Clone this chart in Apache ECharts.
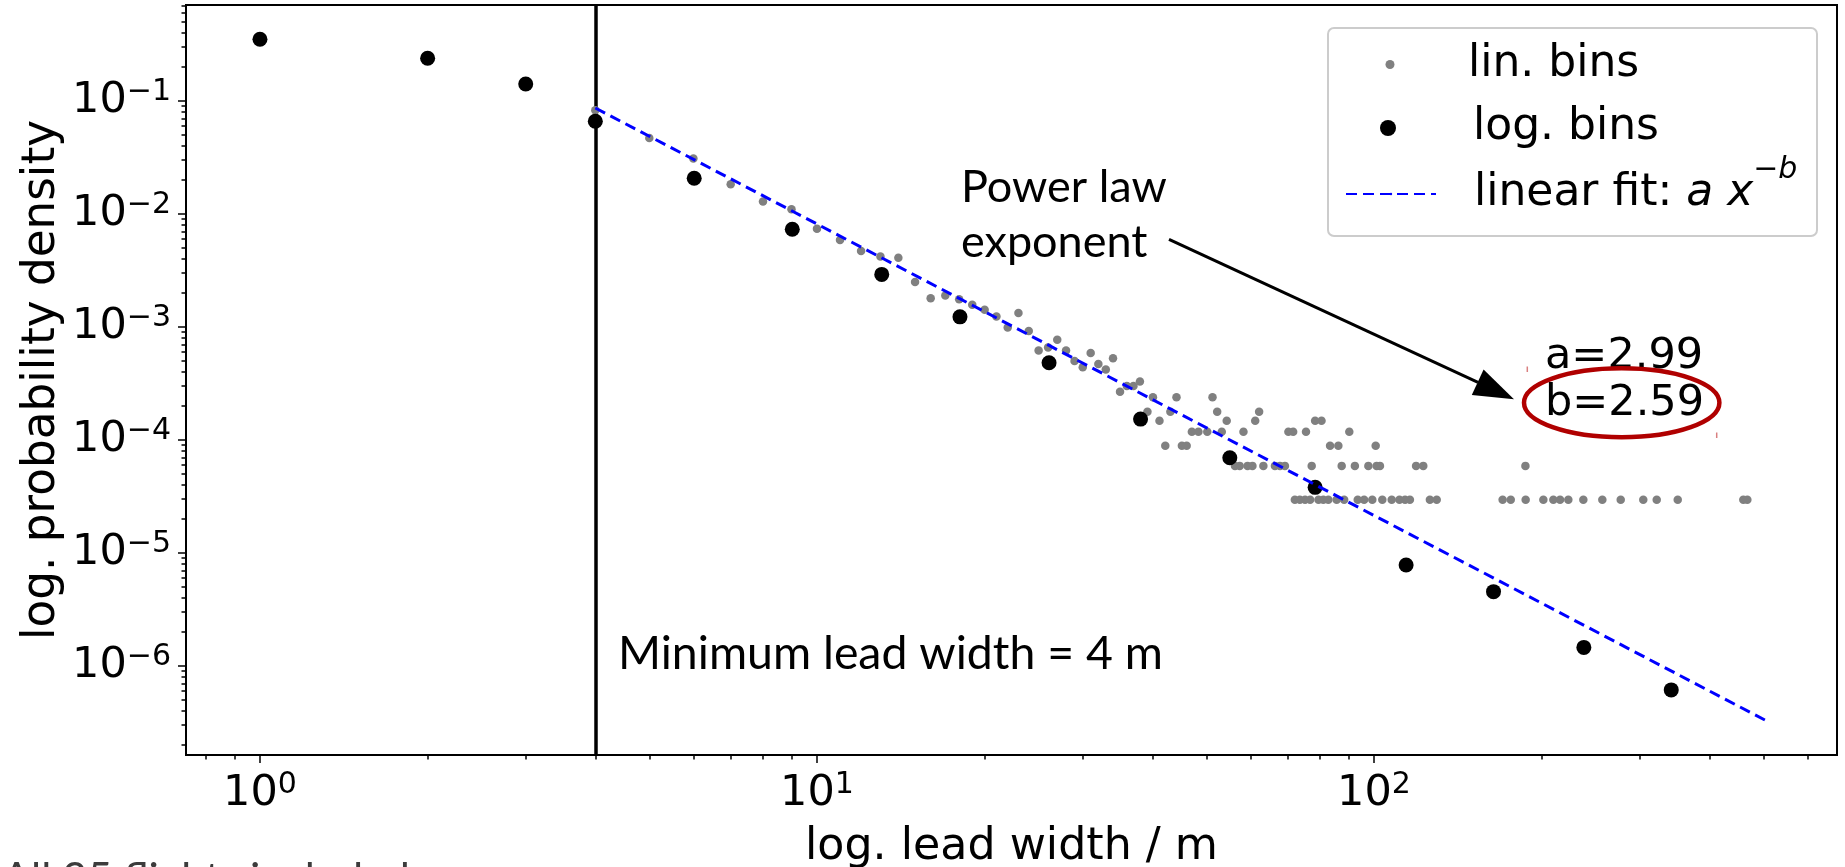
<!DOCTYPE html>
<html><head><meta charset="utf-8">
<script src="https://cdn.jsdelivr.net/npm/echarts@6/dist/echarts.min.js"></script>
<style>html,body{margin:0;padding:0;background:#fff}#c{width:1845px;height:867px}</style>
</head><body><div id="c"></div>
<script>
// ---------------- data ----------------
const linBinsX = [1,2,3,4,5,6,7,8,9,10,11,12,13,14,15,16,17,18,19,20,21,22,23,24,25,26,27,28,29,30,31,32,33,34,35,36,37,38,
  40.1,44.2,51.3,
  39.2,43.1,52.3,62.2,
  41.2,54.4,61.2,78.4,80.5,
  47.1,48.4,50.2,53.3,58.3,70.2,71.6,75.5,90.3,
  42.2,45.2,46.1,83.4,86.3,100.7,
  56.3,57.4,59.3,60.5,63.3,66.4,67.8,69.2,77.3,87.5,92.4,97.7,101.1,102.5,119,122.6,187,
  72.1,73.6,75.2,76.8,79.5,81.1,82.8,85.7,88.4,93.5,96,99.3,103.5,107.6,111.1,113.7,116,126,129.6,170.2,176,187.2,201.4,209.9,215.8,223.3,237.6,257,277.3,304.4,321.8,351,460.3,468];
const linBinsY = [0.3515,0.2387,0.1413,0.083,0.047,0.031,0.0183,0.0129,0.011,0.0074,0.0059,0.0047,0.0042,0.0041,0.0025,0.0018,0.0019,0.00176,0.00157,0.00142,0.00124,0.00099,0.00133,0.00092,0.00062,0.00066,0.00077,0.00062,0.0005,0.00044,0.00059,0.00047,0.00042,0.00053,0.000267,0.0003,0.0003,0.00033,
  2.39e-4,2.39e-4,2.39e-4,
  1.78e-4,1.78e-4,1.78e-4,1.78e-4,
  1.48e-4,1.48e-4,1.48e-4,1.48e-4,1.48e-4,
  1.18e-4,1.18e-4,1.18e-4,1.18e-4,1.18e-4,1.18e-4,1.18e-4,1.18e-4,1.18e-4,
  8.9e-5,8.9e-5,8.9e-5,8.9e-5,8.9e-5,8.9e-5,
  5.9e-5,5.9e-5,5.9e-5,5.9e-5,5.9e-5,5.9e-5,5.9e-5,5.9e-5,5.9e-5,5.9e-5,5.9e-5,5.9e-5,5.9e-5,5.9e-5,5.9e-5,5.9e-5,5.9e-5,
  2.96e-5,2.96e-5,2.96e-5,2.96e-5,2.96e-5,2.96e-5,2.96e-5,2.96e-5,2.96e-5,2.96e-5,2.96e-5,2.96e-5,2.96e-5,2.96e-5,2.96e-5,2.96e-5,2.96e-5,2.96e-5,2.96e-5,2.96e-5,2.96e-5,2.96e-5,2.96e-5,2.96e-5,2.96e-5,2.96e-5,2.96e-5,2.96e-5,2.96e-5,2.96e-5,2.96e-5,2.96e-5,2.96e-5,2.96e-5];
const logBinsX = [1,2,3,4,6.02,9.03,13.07,18.06,26.1,38.1,55.1,78.4,114.2,163.9,238.1,341.7];
const logBinsY = [0.3515,0.2387,0.1413,0.0662,0.0207,0.00733,0.00292,0.00123,0.000483,0.000153,6.97e-5,3.81e-5,7.83e-6,4.55e-6,1.46e-6,6.14e-7];
const fitX = [4, 506];
const fitY = [0.0867, 3.28e-7];
const minLeadWidth = 4;
const xMajorTicks = [1, 10, 100];
const xTickExponents = ['0', '1', '2'];
const yMajorTicks = [1e-6, 1e-5, 1e-4, 1e-3, 1e-2, 1e-1];
const yTickExponents = ['−6', '−5', '−4', '−3', '−2', '−1'];
const seriesNames = ['lin. bins', 'log. bins', 'linear fit: a x^-b'];

// ---------------- helpers ----------------
const FONT = 'DejaVu Sans';
const CAL = 'Lato';
const xRange = [0.7366, 678];
const yRange = [1.63e-7, 0.7072];
function minorTicks(lo, hi, e0, e1) {
  const out = [];
  for (let e = e0; e <= e1; e++) for (let k = 2; k <= 9; k++) {
    const v = k * Math.pow(10, e);
    if (v > lo && v < hi) out.push(+v.toPrecision(6));
  }
  return out;
}
const xMinor = minorTicks(xRange[0], xRange[1], -1, 2);
const yMinor = minorTicks(yRange[0], yRange[1], -7, -1);
function zip(a, b) { return a.map((v, i) => [v, b[i]]); }
function expLabel(majors, exps) {
  return function (v) {
    const i = majors.findIndex(t => Math.abs(Math.log10(t) - Math.log10(v)) < 1e-6);
    return i < 0 ? '' : '{b|10}{s|' + exps[i] + '}';
  };
}
const tickRich = {
  b: {fontFamily: FONT, fontSize: 43, color: '#000'},
  s: {fontFamily: FONT, fontSize: 30, color: '#000', padding: [0, 0, 17, 0]}
};
const tickLine = {color: '#000', width: 1.5};
const legText = {fontFamily: FONT, fontSize: 44, color: '#000'};

const chart = echarts.init(document.getElementById('c'), null, {renderer: 'canvas'});
const option = {
  animation: false,
  backgroundColor: '#fff',
  textStyle: {fontFamily: FONT},
  grid: {left: 186, top: 5, width: 1651, height: 750, containLabel: false, outerBoundsMode: 'none',
    show: true, borderColor: '#000', borderWidth: 2, backgroundColor: 'rgba(0,0,0,0)'},
  xAxis: [
    {type: 'log', logBase: 10, min: xRange[0], max: xRange[1], position: 'bottom',
      axisLine: {show: false}, splitLine: {show: false},
      axisTick: {show: true, customValues: xMajorTicks, length: 8, lineStyle: tickLine},
      axisLabel: {show: true, customValues: xMajorTicks, formatter: expLabel(xMajorTicks, xTickExponents),
        margin: 15, rich: tickRich, fontFamily: FONT, fontSize: 43, color: '#000'},
      name: 'log. lead width / m', nameLocation: 'middle', nameGap: 70, nameMoveOverlap: false,
      nameTextStyle: {fontFamily: FONT, fontSize: 44.3, color: '#000'}},
    {type: 'log', logBase: 10, min: xRange[0], max: xRange[1], position: 'bottom',
      axisLine: {show: false}, splitLine: {show: false},
      axisTick: {show: true, customValues: xMinor, length: 4.5, lineStyle: tickLine},
      axisLabel: {show: false}}
  ],
  yAxis: [
    {type: 'log', logBase: 10, min: yRange[0], max: yRange[1], position: 'left',
      axisLine: {show: false}, splitLine: {show: false},
      axisTick: {show: true, customValues: yMajorTicks, length: 8, lineStyle: tickLine},
      axisLabel: {show: true, customValues: yMajorTicks, formatter: expLabel(yMajorTicks, yTickExponents),
        margin: 15, rich: tickRich, fontFamily: FONT, fontSize: 43, color: '#000'},
      name: 'log. probability density', nameLocation: 'middle', nameGap: 121, nameMoveOverlap: false,
      nameTextStyle: {fontFamily: FONT, fontSize: 45.3, color: '#000'}},
    {type: 'log', logBase: 10, min: yRange[0], max: yRange[1], position: 'left',
      axisLine: {show: false}, splitLine: {show: false},
      axisTick: {show: true, customValues: yMinor, length: 4.5, lineStyle: tickLine},
      axisLabel: {show: false}}
  ],
  legend: [
    {data: [seriesNames[0]], z: 10, orient: 'vertical', left: 1385.5, top: 42.5, padding: 0, itemWidth: 9, itemHeight: 9,
      selectedMode: false,
      formatter: function (n) { return '{g| }{t|' + n + '}'; },
      textStyle: Object.assign({}, legText, {rich: {g: {width: 68.5, fontSize: 10}, t: legText}})},
    {data: [seriesNames[1]], z: 10, orient: 'vertical', left: 1380, top: 106, padding: 0, itemWidth: 16, itemHeight: 16,
      selectedMode: false,
      formatter: function (n) { return '{g| }{t|' + n + '}'; },
      textStyle: Object.assign({}, legText, {rich: {g: {width: 72, fontSize: 10}, t: legText}})},
    {data: [seriesNames[2]], z: 10, orient: 'vertical', left: 1345, top: 155.5, padding: 0, itemWidth: 90, itemHeight: 3,
      selectedMode: false,
      formatter: function () { return '{g| }{r|linear fit: }{i|a x}{s|−b}'; },
      textStyle: Object.assign({}, legText, {
        rich: {
          g: {width: 33, fontSize: 10},
          r: legText,
          i: Object.assign({}, legText, {fontStyle: 'italic'}),
          s: {fontFamily: FONT, fontSize: 30, color: '#000', fontStyle: 'italic', padding: [0, 0, 47, 0]}
        }})}
  ],
  series: [
    {name: seriesNames[0], type: 'scatter', xAxisIndex: 0, yAxisIndex: 0, z: 2, silent: true,
      symbol: 'circle', symbolSize: 8.5, itemStyle: {color: '#808080', borderWidth: 0, opacity: 1},
      data: zip(linBinsX, linBinsY),
      markLine: {silent: true, z: 1, symbol: ['none', 'none'], label: {show: false},
        lineStyle: {color: '#000', width: 3.5, type: 'solid'}, emphasis: {disabled: true},
        data: [{xAxis: minLeadWidth}]}},
    {name: seriesNames[1], type: 'scatter', xAxisIndex: 0, yAxisIndex: 0, z: 3, silent: true,
      symbol: 'circle', symbolSize: 15, itemStyle: {color: '#000', borderWidth: 0, opacity: 1},
      data: zip(logBinsX, logBinsY)},
    {name: seriesNames[2], type: 'line', xAxisIndex: 0, yAxisIndex: 0, z: 4, silent: true,
      symbol: 'none', showSymbol: false,
      lineStyle: {color: '#0000ff', width: 3, type: [11, 6]}, itemStyle: {color: '#0000ff'},
      data: zip(fitX, fitY)}
  ],
  graphic: [
    {type: 'rect', z: 1, shape: {x: 1328, y: 28, width: 489, height: 208, r: 6},
      style: {fill: 'rgba(255,255,255,0.8)', stroke: '#cccccc', lineWidth: 2}},
    {type: 'text', z: 60, x: 961, y: 160,
      style: {text: 'Power law\nexponent', fontFamily: CAL, fontSize: 45, lineHeight: 55, fill: '#000', align: 'left', verticalAlign: 'top'}},
    {type: 'line', z: 60, shape: {x1: 1169, y1: 239.3, x2: 1478, y2: 382.3}, style: {stroke: '#000', lineWidth: 3}},
    {type: 'polygon', z: 60, shape: {points: [[1514, 399.3], [1471.8, 394.9], [1483.6, 369.5]]}, style: {fill: '#000'}},
    {type: 'text', z: 60, x: 1545, y: 356.8,
      style: {text: 'a=2.99', fontFamily: FONT, fontSize: 43, fill: '#000', align: 'left', verticalAlign: 'middle'}},
    {type: 'text', z: 60, x: 1545, y: 404,
      style: {text: 'b=2.59', fontFamily: FONT, fontSize: 43, fill: '#000', align: 'left', verticalAlign: 'middle'}},
    {type: 'ellipse', z: 61, shape: {cx: 1621.7, cy: 402.8, rx: 97.7, ry: 34.5},
      style: {fill: 'none', stroke: '#b00000', lineWidth: 4.5}},
    {type: 'line', z: 61, shape: {x1: 1527.3, y1: 366.5, x2: 1527.3, y2: 372}, style: {stroke: '#d98080', lineWidth: 1.5}},
    {type: 'line', z: 61, shape: {x1: 1716.7, y1: 432.5, x2: 1716.7, y2: 438}, style: {stroke: '#d98080', lineWidth: 1.5}},
    {type: 'text', z: 60, x: 618, y: 654,
      style: {text: 'Minimum lead width = 4 m', fontFamily: CAL, fontSize: 46.4, fill: '#000', align: 'left', verticalAlign: 'middle'}},
    {type: 'text', z: 60, x: 2, y: 879,
      style: {text: 'All 25 flights included', fontFamily: CAL, fontSize: 43, fill: '#3c3c3c', align: 'left', verticalAlign: 'middle'}}
  ]
};
chart.setOption(option);
</script>
</body></html>
